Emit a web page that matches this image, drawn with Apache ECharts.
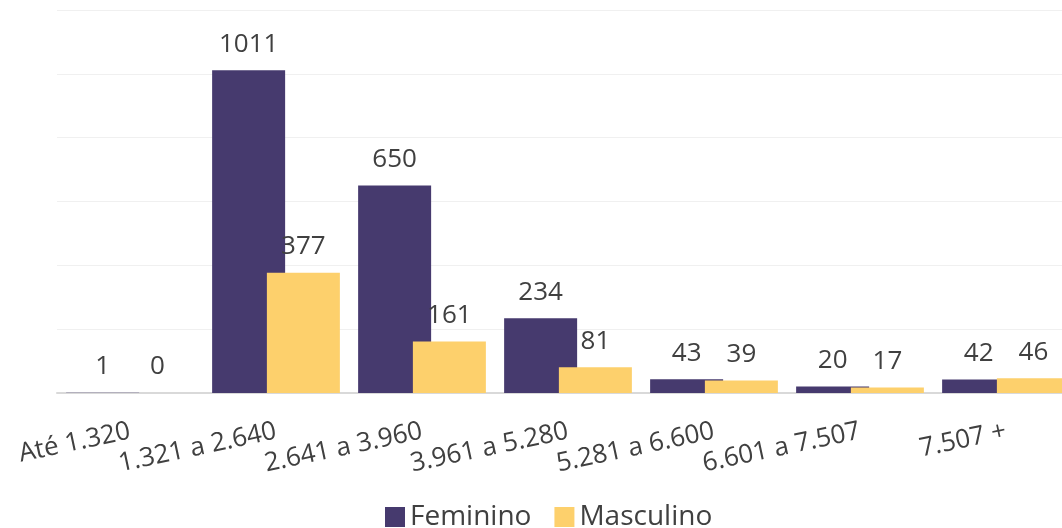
<!DOCTYPE html>
<html>
<head>
<meta charset="utf-8">
<script src="https://cdn.jsdelivr.net/npm/echarts@6/dist/echarts.min.js"></script>
<style>
  html, body { margin: 0; padding: 0; background: #fff; }
  #chart { width: 1062px; height: 528px; }
</style>
</head>
<body>
<div id="chart"></div>
<script>
  // faixas salariais
  const categories = ['Até 1.320', '1.321 a 2.640', '2.641 a 3.960', '3.961 a 5.280', '5.281 a 6.600', '6.601 a 7.507', '7.507 +'];
  const feminino = [1, 1011, 650, 234, 43, 20, 42];
  const masculino = [0, 377, 161, 81, 39, 17, 46];

  const myChart = echarts.init(document.getElementById('chart'));
  const labelStyle = {
    show: true,
    position: 'top',
    distance: 13,
    color: '#404040',
    fontSize: 26,
    fontFamily: 'Open Sans'
  };

  myChart.setOption({
    animation: false,
    textStyle: { fontFamily: 'Open Sans' },
    grid: {
      left: 57,
      width: 1022,
      top: 10,
      height: 383,
      outerBoundsMode: 'none'
    },
    legend: {
      top: 498,
      left: 380,
      itemWidth: 20,
      itemHeight: 20,
      itemGap: 23,
      icon: 'rect',
      textStyle: { fontSize: 28, color: '#404040', padding: [0, 0, 0, 0] },
      data: ['Feminino', 'Masculino']
    },
    xAxis: {
      type: 'category',
      data: categories,
      axisLine: { lineStyle: { color: '#d9d9d9', width: 2 } },
      axisTick: { show: false },
      axisLabel: {
        rotate: 12,
        margin: 38,
        interval: 0,
        fontSize: 26,
        color: '#404040'
      }
    },
    yAxis: {
      type: 'value',
      min: 0,
      max: 1200,
      interval: 200,
      axisLabel: { show: false },
      axisLine: { show: false },
      axisTick: { show: false },
      splitLine: { lineStyle: { color: '#f0f0f0', width: 1 } }
    },
    series: [
      {
        name: 'Feminino',
        type: 'bar',
        data: feminino,
        barWidth: 73,
        barGap: '-25%',
        itemStyle: { color: '#463a6e' },
        label: labelStyle
      },
      {
        name: 'Masculino',
        type: 'bar',
        data: masculino,
        barWidth: 73,
        barGap: '-25%',
        itemStyle: { color: '#fdd06c' },
        label: labelStyle
      }
    ]
  });
</script>
</body>
</html>
